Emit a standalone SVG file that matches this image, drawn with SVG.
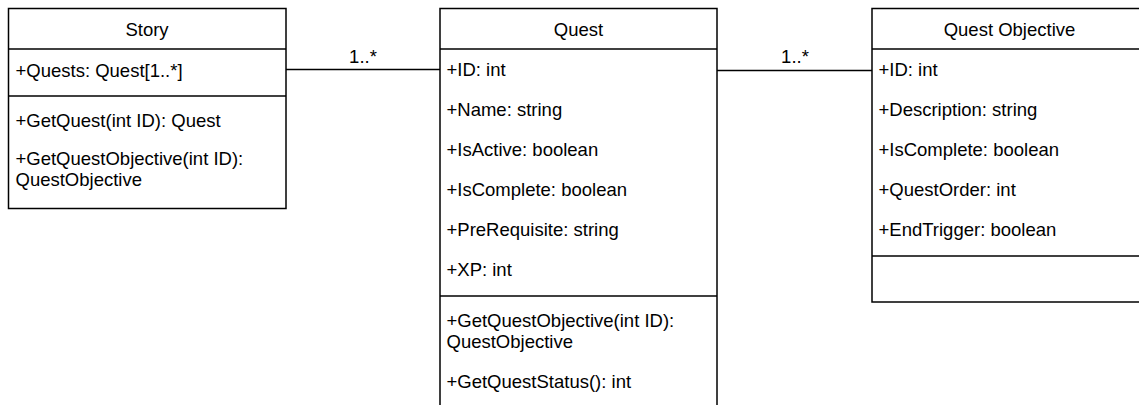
<svg xmlns="http://www.w3.org/2000/svg" width="1139" height="405" viewBox="0 0 1139 405">
<style>
.box{fill:#fff;stroke:#000;stroke-width:1.5}
.sep{stroke:#000;stroke-width:1.5;fill:none}
.conn{stroke:#000;stroke-width:1.5;fill:none}
text{font-family:"Liberation Sans",Arial,Helvetica,sans-serif;font-size:18.5px;fill:#000}
.t{text-anchor:middle}
</style>
<rect x="0" y="0" width="1139" height="405" fill="#fff"/>
<g id="connectors">
<line class="conn" x1="286" y1="69.5" x2="440" y2="69.5"/>
<text class="t" x="363" y="63">1..*</text>
<line class="conn" x1="717" y1="70.5" x2="872" y2="70.5"/>
<text class="t" x="795" y="63">1..*</text>
</g>
<g id="story">
<rect class="box" x="8.5" y="8.5" width="277.5" height="200"/>
<line class="sep" x1="8.5" y1="49" x2="286" y2="49"/>
<line class="sep" x1="8.5" y1="96" x2="286" y2="96"/>
<text class="t" x="147" y="36">Story</text>
<text x="15.5" y="77">+Quests: Quest[1..*]</text>
<text x="15.5" y="127">+GetQuest(int ID): Quest</text>
<text x="15.5" y="165">+GetQuestObjective(int ID):</text>
<text x="15.5" y="186">QuestObjective</text>
</g>
<g id="quest">
<rect class="box" x="440" y="8.5" width="277" height="410"/>
<line class="sep" x1="440" y1="49" x2="717" y2="49"/>
<line class="sep" x1="440" y1="296" x2="717" y2="296"/>
<text class="t" x="578.5" y="36">Quest</text>
<text x="446.5" y="76">+ID: int</text>
<text x="446.5" y="116">+Name: string</text>
<text x="446.5" y="156">+IsActive: boolean</text>
<text x="446.5" y="196">+IsComplete: boolean</text>
<text x="446.5" y="236">+PreRequisite: string</text>
<text x="446.5" y="276">+XP: int</text>
<text x="446.5" y="327">+GetQuestObjective(int ID):</text>
<text x="446.5" y="348">QuestObjective</text>
<text x="446.5" y="388">+GetQuestStatus(): int</text>
</g>
<g id="quest-objective">
<rect class="box" x="872" y="8.5" width="276" height="293.5"/>
<line class="sep" x1="872" y1="49" x2="1148" y2="49"/>
<line class="sep" x1="872" y1="256" x2="1148" y2="256"/>
<text class="t" x="1009.5" y="36">Quest Objective</text>
<text x="878.5" y="76">+ID: int</text>
<text x="878.5" y="116">+Description: string</text>
<text x="878.5" y="156">+IsComplete: boolean</text>
<text x="878.5" y="196">+QuestOrder: int</text>
<text x="878.5" y="236">+EndTrigger: boolean</text>
</g>
</svg>
